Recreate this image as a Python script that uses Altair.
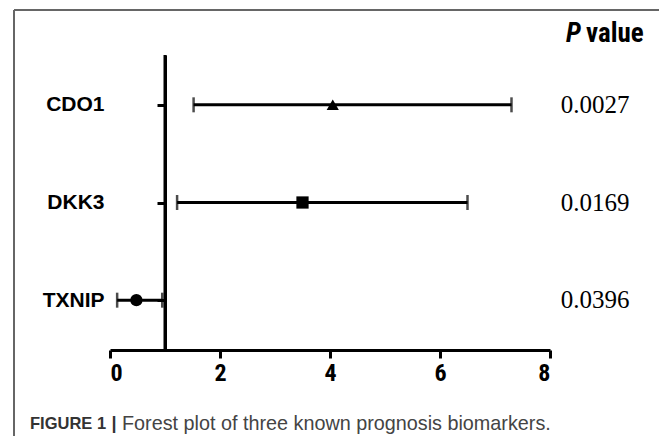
import altair as alt
import pandas as pd

genes = ["CDO1", "DKK3", "TXNIP"]
hr = [4.05, 3.5, 0.48]
lower = [1.52, 1.22, 0.13]
upper = [7.3, 6.5, 0.95]
pvals = ["0.0027", "0.0169", "0.0396"]
shapes = ["triangle-up", "square", "circle"]
x_ticks = [0, 2, 4, 6, 8]

df = pd.DataFrame({"gene": genes, "hr": hr, "lo": lower, "hi": upper,
                   "p": pvals, "shape": shapes})

W, H = 440, 295
narrow = "Liberation Sans Narrow, Roboto Condensed, Liberation Sans"
sans = "Liberation Sans, Arial, Helvetica"

xs = alt.Scale(domain=[0, 8], nice=False, zero=False)
ys = alt.Scale(type="point", domain=genes, padding=0.51)

base = alt.Chart(df)

ci = base.mark_rule(color="black", strokeWidth=3).encode(
    x=alt.X("lo:Q", scale=xs, axis=alt.Axis(
        values=x_ticks, title=None, domainWidth=3, domainColor="black",
        tickWidth=3, tickColor="black", tickSize=8, grid=False,
        labelFont=narrow, labelFontWeight="bold", labelFontSize=24,
        labelColor="black", labelPadding=3)),
    x2="hi:Q",
    y=alt.Y("gene:N", scale=ys, sort=genes, axis=alt.Axis(
        title=None, offset=-W / 8, domainWidth=3, domainColor="black",
        tickWidth=3, tickColor="black", tickSize=8,
        labelFont=sans, labelFontWeight="bold",
        labelFontSize=21, labelColor="black", labelPadding=53)),
)

cap_lo = base.mark_tick(color="black", thickness=2.5, size=15, orient="vertical").encode(
    x=alt.X("lo:Q", scale=xs), y=alt.Y("gene:N", scale=ys, sort=genes))
cap_hi = base.mark_tick(color="black", thickness=2.5, size=15, orient="vertical").encode(
    x=alt.X("hi:Q", scale=xs), y=alt.Y("gene:N", scale=ys, sort=genes))

pts = base.mark_point(filled=True, color="black", opacity=1, size=150).encode(
    x=alt.X("hr:Q", scale=xs),
    y=alt.Y("gene:N", scale=ys, sort=genes),
    shape=alt.Shape("shape:N", scale=None, legend=None),
)

ref = alt.Chart(pd.DataFrame({"v": [1]})).mark_rule(color="black", strokeWidth=3).encode(
    x=alt.X("v:Q", scale=xs), y=alt.value(0), y2=alt.value(H))

ptxt = base.mark_text(font="Liberation Serif, Times New Roman", fontSize=25,
                      color="black", align="center", baseline="middle").encode(
    x=alt.value(485), y=alt.Y("gene:N", scale=ys, sort=genes), text="p:N")

h1 = alt.Chart(pd.DataFrame({"t": ["P"]})).mark_text(
    font=narrow, fontSize=27, fontWeight="bold", fontStyle="italic", color="black",
    align="right", baseline="middle").encode(
    x=alt.value(471), y=alt.value(-21), text="t:N")
h2 = alt.Chart(pd.DataFrame({"t": ["value"]})).mark_text(
    font=narrow, fontSize=27, fontWeight="bold", color="black", align="left",
    baseline="middle").encode(x=alt.value(476), y=alt.value(-21), text="t:N")

c1 = alt.Chart(pd.DataFrame({"t": ["FIGURE 1"]})).mark_text(
    font=sans, fontSize=16.5, fontWeight="bold", color="#333333", align="left",
    baseline="middle").encode(x=alt.value(-80), y=alt.value(369), text="t:N")
c1b = alt.Chart(pd.DataFrame({"t": ["|"]})).mark_text(
    font=sans, fontSize=18, fontWeight="bold", color="#333333", align="center",
    baseline="middle").encode(x=alt.value(4), y=alt.value(369), text="t:N")
c2 = alt.Chart(pd.DataFrame({"t": ["Forest plot of three known prognosis biomarkers."]})).mark_text(
    font=sans, fontSize=19.8, color="#444444", align="left",
    baseline="middle").encode(x=alt.value(12), y=alt.value(369), text="t:N")

frame_top = alt.Chart(pd.DataFrame({"a": [0]})).mark_rule(color="#666666", strokeWidth=2).encode(
    x=alt.value(-96), x2=alt.value(W + 120), y=alt.value(-45))
frame_left = alt.Chart(pd.DataFrame({"a": [0]})).mark_rule(color="#666666", strokeWidth=2).encode(
    x=alt.value(-96), y=alt.value(-45), y2=alt.value(H + 100))

chart = alt.layer(frame_top, frame_left, ci, cap_lo, cap_hi, ref, pts, ptxt,
                  h1, h2, c1, c1b, c2).properties(
    width=W, height=H,
    autosize=alt.AutoSizeParams(type="none"),
    padding={"left": 102, "top": 47, "right": 109, "bottom": 86},
).configure_view(stroke=None)

chart.save("out.html", embed_options={"renderer": "svg", "actions": False})
